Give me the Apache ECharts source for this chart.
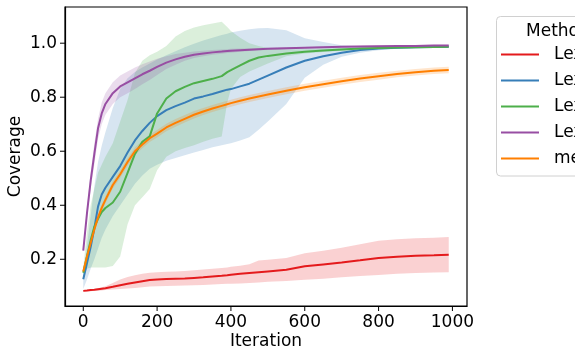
<!DOCTYPE html>
<html>
<head>
<meta charset="utf-8">
<script src="https://cdn.jsdelivr.net/npm/echarts@6/dist/echarts.min.js"></script>
<style>html,body{margin:0;padding:0;background:#fff;}#chart{width:575px;height:359px;}</style>
</head>
<body>
<div id="chart"></div>
<script>
var X = [0,10,20,30,40,50,60,80,100,120,140,160,180,200,225,250,275,300,325,350,375,390,400,425,450,475,500,550,600,650,700,750,800,850,900,950,990];

var methodNames = ["Lexicase", "Lexicase-DS", "Lexicase-Eps", "Lexicase-Nov", "me-es"];
var methodColors = ["#e41a1c", "#377eb8", "#4daf4a", "#984ea3", "#ff7f00"];

var xTicks = [0, 200, 400, 600, 800, 1000];
var yTicks = [0.2, 0.4, 0.6, 0.8, 1.0];

// Lex 1 (red)
var redMean  = [0.083,0.084,0.086,0.087,0.089,0.091,0.093,0.098,0.104,0.109,0.114,0.119,0.123,0.125,0.127,0.128,0.129,0.131,0.133,0.136,0.139,0.141,0.143,0.146,0.149,0.152,0.155,0.161,0.174,0.181,0.188,0.196,0.205,0.209,0.213,0.215,0.217];
var redUpper = [0.085,0.086,0.088,0.090,0.093,0.096,0.100,0.112,0.125,0.134,0.141,0.146,0.150,0.152,0.154,0.155,0.157,0.159,0.162,0.165,0.168,0.170,0.172,0.176,0.182,0.195,0.198,0.205,0.222,0.232,0.243,0.256,0.269,0.274,0.278,0.280,0.282];
var redLower = [0.081,0.082,0.082,0.083,0.083,0.084,0.086,0.088,0.090,0.092,0.094,0.096,0.099,0.100,0.101,0.102,0.103,0.104,0.105,0.107,0.108,0.109,0.109,0.110,0.112,0.114,0.117,0.120,0.124,0.128,0.133,0.138,0.142,0.146,0.149,0.151,0.152];

// Lex 2 (blue)
var blueMean  = [0.126,0.185,0.245,0.315,0.395,0.440,0.465,0.505,0.545,0.595,0.640,0.675,0.705,0.730,0.752,0.767,0.780,0.795,0.803,0.812,0.822,0.828,0.830,0.840,0.850,0.865,0.880,0.910,0.935,0.952,0.965,0.975,0.980,0.983,0.985,0.986,0.987];
var blueUpper = [0.140,0.250,0.360,0.470,0.560,0.620,0.670,0.760,0.830,0.870,0.893,0.910,0.925,0.940,0.955,0.970,0.985,0.998,1.010,1.020,1.030,1.035,1.040,1.046,1.052,1.055,1.056,1.048,1.018,1.004,0.992,0.989,0.989,0.989,0.989,0.989,0.989];
var blueLower = [0.090,0.125,0.165,0.200,0.240,0.280,0.310,0.360,0.400,0.440,0.480,0.510,0.535,0.550,0.565,0.575,0.585,0.595,0.605,0.615,0.622,0.627,0.630,0.640,0.652,0.680,0.710,0.775,0.872,0.920,0.950,0.965,0.974,0.979,0.981,0.983,0.984];

// Lex 3 (green)
var greenMean  = [0.150,0.210,0.270,0.320,0.350,0.375,0.390,0.410,0.450,0.520,0.590,0.635,0.655,0.740,0.795,0.822,0.838,0.852,0.860,0.868,0.878,0.893,0.900,0.918,0.935,0.947,0.953,0.962,0.968,0.973,0.977,0.980,0.982,0.984,0.985,0.986,0.987];
var greenUpper = [0.170,0.300,0.400,0.460,0.520,0.550,0.580,0.630,0.710,0.790,0.890,0.935,0.955,0.968,0.990,1.025,1.045,1.058,1.066,1.073,1.079,1.060,1.045,1.020,1.000,0.990,0.982,0.977,0.978,0.980,0.982,0.984,0.985,0.986,0.987,0.988,0.988];
var greenLower = [0.145,0.165,0.170,0.170,0.170,0.170,0.170,0.175,0.210,0.330,0.400,0.430,0.460,0.530,0.580,0.600,0.612,0.622,0.635,0.646,0.655,0.780,0.830,0.875,0.895,0.910,0.925,0.952,0.962,0.967,0.972,0.975,0.978,0.980,0.982,0.983,0.984];

// Lex 4 (purple)
var purpleMean  = [0.232,0.370,0.490,0.590,0.685,0.740,0.775,0.815,0.840,0.855,0.870,0.885,0.898,0.912,0.928,0.940,0.950,0.957,0.962,0.966,0.969,0.971,0.972,0.974,0.976,0.978,0.979,0.981,0.983,0.985,0.987,0.988,0.989,0.990,0.990,0.991,0.991];
var purpleUpper = [0.235,0.390,0.520,0.630,0.720,0.780,0.815,0.855,0.880,0.895,0.910,0.922,0.932,0.942,0.952,0.960,0.965,0.969,0.972,0.975,0.977,0.978,0.979,0.980,0.981,0.982,0.983,0.985,0.986,0.988,0.990,0.991,0.992,0.993,0.993,0.994,0.994];
var purpleLower = [0.229,0.350,0.460,0.550,0.645,0.700,0.735,0.775,0.800,0.815,0.830,0.848,0.864,0.882,0.904,0.920,0.935,0.945,0.952,0.957,0.961,0.964,0.965,0.968,0.971,0.974,0.975,0.977,0.980,0.982,0.984,0.985,0.986,0.987,0.987,0.988,0.988];

// me (orange)
var orangeMean  = [0.155,0.210,0.260,0.310,0.355,0.390,0.420,0.475,0.515,0.560,0.600,0.625,0.648,0.665,0.688,0.705,0.720,0.735,0.747,0.758,0.768,0.774,0.778,0.787,0.795,0.803,0.810,0.824,0.837,0.848,0.859,0.869,0.878,0.886,0.892,0.898,0.901];
var orangeUpper = [0.159,0.218,0.270,0.322,0.367,0.403,0.433,0.488,0.529,0.574,0.614,0.639,0.662,0.679,0.702,0.719,0.734,0.749,0.760,0.771,0.781,0.787,0.791,0.800,0.808,0.816,0.823,0.837,0.850,0.861,0.872,0.882,0.891,0.898,0.904,0.910,0.913];
var orangeLower = [0.151,0.202,0.250,0.298,0.343,0.377,0.407,0.462,0.501,0.546,0.586,0.611,0.634,0.651,0.674,0.691,0.706,0.721,0.734,0.745,0.755,0.761,0.765,0.774,0.782,0.790,0.797,0.811,0.824,0.835,0.846,0.856,0.865,0.874,0.880,0.886,0.889];

var means  = [redMean, blueMean, greenMean, purpleMean, orangeMean];
var uppers = [redUpper, blueUpper, greenUpper, purpleUpper, orangeUpper];
var lowers = [redLower, blueLower, greenLower, purpleLower, orangeLower];

var FONT = "DejaVu Sans";
var X_MIN = -49.5, X_MAX = 1039.5, Y_MIN = 0.027, Y_MAX = 1.134;

function bandSeries(lower, upper, color) {
  return {
    type: 'custom',
    coordinateSystem: 'cartesian2d',
    silent: true,
    clip: true,
    data: [[X[0], lower[0]]],
    renderItem: function (params, api) {
      var pts = [];
      for (var i = 0; i < X.length; i++) pts.push(api.coord([X[i], upper[i]]));
      for (var j = X.length - 1; j >= 0; j--) pts.push(api.coord([X[j], lower[j]]));
      return { type: 'polygon', shape: { points: pts }, style: { fill: color, opacity: 0.2 } };
    }
  };
}

var series = [];
for (var k = 0; k < methodNames.length; k++) {
  series.push(bandSeries(lowers[k], uppers[k], methodColors[k]));
  series.push({
    type: 'line',
    name: methodNames[k],
    data: X.map(function (x, i) { return [x, means[this][i]]; }, k),
    symbol: 'none',
    showSymbol: false,
    smooth: false,
    lineStyle: { width: 2, color: methodColors[k] },
    itemStyle: { color: methodColors[k] }
  });
}

// outward tick marks at the tick values, placed through the axis scales
series.push({
  type: 'custom',
  coordinateSystem: 'cartesian2d',
  silent: true,
  clip: false,
  data: [[0, 0.5]],
  renderItem: function (params, api) {
    var children = [];
    xTicks.forEach(function (v) {
      var p = api.coord([v, Y_MIN]);
      children.push({ type: 'line', shape: { x1: p[0], y1: p[1], x2: p[0], y2: p[1] + 5 },
        style: { stroke: '#000', lineWidth: 1 } });
    });
    yTicks.forEach(function (v) {
      var p = api.coord([X_MIN, v]);
      children.push({ type: 'line', shape: { x1: p[0] - 5, y1: p[1], x2: p[0], y2: p[1] },
        style: { stroke: '#000', lineWidth: 1 } });
    });
    return { type: 'group', children: children };
  }
});

var chart = echarts.init(document.getElementById('chart'), null, { renderer: 'canvas' });
chart.setOption({
  animation: false,
  backgroundColor: '#fff',
  grid: { left: 65, right: 108, top: 7, bottom: 53, show: true, borderColor: '#000', borderWidth: 1.2,
    backgroundColor: 'transparent', containLabel: false, outerBoundsMode: 'none' },
  xAxis: {
    type: 'value', min: X_MIN, max: X_MAX,
    name: 'Iteration', nameLocation: 'middle', nameGap: 27, nameMoveOverlap: false,
    nameTextStyle: { fontFamily: FONT, fontSize: 17, color: '#000' },
    axisLine: { show: true, onZero: false, lineStyle: { color: '#000', width: 1.2 } },
    splitLine: { show: false },
    axisTick: { show: false },
    axisLabel: { fontFamily: FONT, fontSize: 17, color: '#000', margin: 8, customValues: xTicks,
      formatter: function (v) { return String(v); } }
  },
  yAxis: {
    type: 'value', min: Y_MIN, max: Y_MAX,
    name: 'Coverage', nameLocation: 'middle', nameGap: 41, nameMoveOverlap: false,
    nameTextStyle: { fontFamily: FONT, fontSize: 17, color: '#000' },
    axisLine: { show: true, onZero: false, lineStyle: { color: '#000', width: 1.2 } },
    splitLine: { show: false },
    axisTick: { show: false },
    axisLabel: { fontFamily: FONT, fontSize: 17, color: '#000', margin: 8, customValues: yTicks,
      formatter: function (v) { return v.toFixed(1); } }
  },
  legend: {
    data: methodNames,
    orient: 'vertical',
    left: 501, top: 46, padding: 0,
    itemWidth: 38, itemHeight: 17, itemGap: 9,
    icon: 'path://M0,8 L38,8 L38,10 L0,10 Z',
    textStyle: { fontFamily: FONT, fontSize: 17, color: '#000', padding: [0, 0, 0, 10] },
    selectedMode: false
  },
  graphic: [
    { type: 'rect', z: 1, shape: { x: 496.5, y: 16.5, width: 130, height: 159.5, r: 4 },
      style: { fill: 'rgba(255,255,255,0.8)', stroke: '#d0d0d0', lineWidth: 1 } },
    { type: 'text', z: 5, x: 526, y: 31.5,
      style: { text: 'Method', font: '17px "DejaVu Sans"', fill: '#000', verticalAlign: 'middle', align: 'left' } }
  ],
  series: series
});
</script>
</body>
</html>
